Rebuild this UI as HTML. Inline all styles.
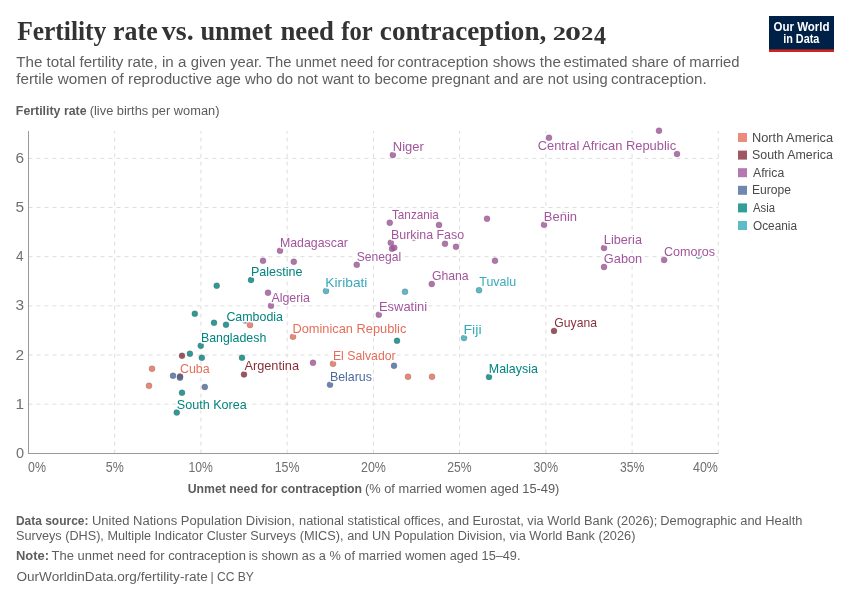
<!DOCTYPE html><html><head><meta charset="utf-8"><style>html,body{margin:0;padding:0;background:#fff;overflow:hidden}svg{display:block;will-change:transform;font-family:"Liberation Sans",sans-serif;}</style></head><body>
<svg width="850" height="600" viewBox="0 0 850 600">
<rect width="850" height="600" fill="#fff"/>
<rect x="769" y="16" width="65" height="36" fill="#002147"/>
<rect x="769" y="49.4" width="65" height="2.6" fill="#ce261e"/>
<line x1="28.5" y1="404.15" x2="718.5" y2="404.15" stroke="#ddd" stroke-dasharray="4,4"/>
<line x1="28.5" y1="355.00" x2="718.5" y2="355.00" stroke="#ddd" stroke-dasharray="4,4"/>
<line x1="28.5" y1="305.85" x2="718.5" y2="305.85" stroke="#ddd" stroke-dasharray="4,4"/>
<line x1="28.5" y1="256.70" x2="718.5" y2="256.70" stroke="#ddd" stroke-dasharray="4,4"/>
<line x1="28.5" y1="207.55" x2="718.5" y2="207.55" stroke="#ddd" stroke-dasharray="4,4"/>
<line x1="28.5" y1="158.40" x2="718.5" y2="158.40" stroke="#ddd" stroke-dasharray="4,4"/>
<line x1="114.72" y1="453.6" x2="114.72" y2="131" stroke="#ddd" stroke-dasharray="4,4"/>
<line x1="200.95" y1="453.6" x2="200.95" y2="131" stroke="#ddd" stroke-dasharray="4,4"/>
<line x1="287.18" y1="453.6" x2="287.18" y2="131" stroke="#ddd" stroke-dasharray="4,4"/>
<line x1="373.40" y1="453.6" x2="373.40" y2="131" stroke="#ddd" stroke-dasharray="4,4"/>
<line x1="459.62" y1="453.6" x2="459.62" y2="131" stroke="#ddd" stroke-dasharray="4,4"/>
<line x1="545.85" y1="453.6" x2="545.85" y2="131" stroke="#ddd" stroke-dasharray="4,4"/>
<line x1="632.08" y1="453.6" x2="632.08" y2="131" stroke="#ddd" stroke-dasharray="4,4"/>
<line x1="718.30" y1="453.6" x2="718.30" y2="131" stroke="#ddd" stroke-dasharray="4,4"/>
<line x1="28.5" y1="131" x2="28.5" y2="453.5" stroke="#999"/>
<line x1="28" y1="453.5" x2="718.5" y2="453.5" stroke="#999"/>
<circle cx="152" cy="368.7" r="3" fill="#E56E5A" fill-opacity="0.82" stroke="#555" stroke-opacity="0.55" stroke-width="0.5"/>
<circle cx="149" cy="385.8" r="3" fill="#E56E5A" fill-opacity="0.82" stroke="#555" stroke-opacity="0.55" stroke-width="0.5"/>
<circle cx="250" cy="325" r="3" fill="#E56E5A" fill-opacity="0.82" stroke="#555" stroke-opacity="0.55" stroke-width="0.5"/>
<circle cx="293" cy="336.75" r="3" fill="#E56E5A" fill-opacity="0.82" stroke="#555" stroke-opacity="0.55" stroke-width="0.5"/>
<circle cx="333" cy="363.7" r="3" fill="#E56E5A" fill-opacity="0.82" stroke="#555" stroke-opacity="0.55" stroke-width="0.5"/>
<circle cx="408" cy="376.7" r="3" fill="#E56E5A" fill-opacity="0.82" stroke="#555" stroke-opacity="0.55" stroke-width="0.5"/>
<circle cx="432" cy="376.7" r="3" fill="#E56E5A" fill-opacity="0.82" stroke="#555" stroke-opacity="0.55" stroke-width="0.5"/>
<circle cx="182" cy="355.8" r="3" fill="#883039" fill-opacity="0.82" stroke="#555" stroke-opacity="0.55" stroke-width="0.5"/>
<circle cx="180" cy="376.5" r="3" fill="#883039" fill-opacity="0.82" stroke="#555" stroke-opacity="0.55" stroke-width="0.5"/>
<circle cx="244" cy="374.4" r="3" fill="#883039" fill-opacity="0.82" stroke="#555" stroke-opacity="0.55" stroke-width="0.5"/>
<circle cx="554" cy="330.9" r="3" fill="#883039" fill-opacity="0.82" stroke="#555" stroke-opacity="0.55" stroke-width="0.5"/>
<circle cx="245" cy="320.5" r="3" fill="#A2559C" fill-opacity="0.82" stroke="#555" stroke-opacity="0.55" stroke-width="0.5"/>
<circle cx="563.7" cy="215.2" r="3" fill="#A2559C" fill-opacity="0.82" stroke="#555" stroke-opacity="0.55" stroke-width="0.5"/>
<circle cx="413.75" cy="237.8" r="3" fill="#A2559C" fill-opacity="0.82" stroke="#555" stroke-opacity="0.55" stroke-width="0.5"/>
<circle cx="392.85" cy="154.9" r="3" fill="#A2559C" fill-opacity="0.82" stroke="#555" stroke-opacity="0.55" stroke-width="0.5"/>
<circle cx="549" cy="137.75" r="3" fill="#A2559C" fill-opacity="0.82" stroke="#555" stroke-opacity="0.55" stroke-width="0.5"/>
<circle cx="659" cy="130.7" r="3" fill="#A2559C" fill-opacity="0.82" stroke="#555" stroke-opacity="0.55" stroke-width="0.5"/>
<circle cx="677" cy="153.9" r="3" fill="#A2559C" fill-opacity="0.82" stroke="#555" stroke-opacity="0.55" stroke-width="0.5"/>
<circle cx="389.75" cy="222.8" r="3" fill="#A2559C" fill-opacity="0.82" stroke="#555" stroke-opacity="0.55" stroke-width="0.5"/>
<circle cx="439" cy="225" r="3" fill="#A2559C" fill-opacity="0.82" stroke="#555" stroke-opacity="0.55" stroke-width="0.5"/>
<circle cx="487" cy="218.75" r="3" fill="#A2559C" fill-opacity="0.82" stroke="#555" stroke-opacity="0.55" stroke-width="0.5"/>
<circle cx="544" cy="224.75" r="3" fill="#A2559C" fill-opacity="0.82" stroke="#555" stroke-opacity="0.55" stroke-width="0.5"/>
<circle cx="390.8" cy="242.75" r="3" fill="#A2559C" fill-opacity="0.82" stroke="#555" stroke-opacity="0.55" stroke-width="0.5"/>
<circle cx="392" cy="248.75" r="3" fill="#A2559C" fill-opacity="0.82" stroke="#555" stroke-opacity="0.55" stroke-width="0.5"/>
<circle cx="394.25" cy="247.7" r="3" fill="#A2559C" fill-opacity="0.82" stroke="#555" stroke-opacity="0.55" stroke-width="0.5"/>
<circle cx="445" cy="243.8" r="3" fill="#A2559C" fill-opacity="0.82" stroke="#555" stroke-opacity="0.55" stroke-width="0.5"/>
<circle cx="456" cy="246.8" r="3" fill="#A2559C" fill-opacity="0.82" stroke="#555" stroke-opacity="0.55" stroke-width="0.5"/>
<circle cx="495" cy="260.75" r="3" fill="#A2559C" fill-opacity="0.82" stroke="#555" stroke-opacity="0.55" stroke-width="0.5"/>
<circle cx="604" cy="248" r="3" fill="#A2559C" fill-opacity="0.82" stroke="#555" stroke-opacity="0.55" stroke-width="0.5"/>
<circle cx="604" cy="267" r="3" fill="#A2559C" fill-opacity="0.82" stroke="#555" stroke-opacity="0.55" stroke-width="0.5"/>
<circle cx="664.1" cy="259.9" r="3" fill="#A2559C" fill-opacity="0.82" stroke="#555" stroke-opacity="0.55" stroke-width="0.5"/>
<circle cx="280" cy="250.75" r="3" fill="#A2559C" fill-opacity="0.82" stroke="#555" stroke-opacity="0.55" stroke-width="0.5"/>
<circle cx="263" cy="260.8" r="3" fill="#A2559C" fill-opacity="0.82" stroke="#555" stroke-opacity="0.55" stroke-width="0.5"/>
<circle cx="293.8" cy="261.7" r="3" fill="#A2559C" fill-opacity="0.82" stroke="#555" stroke-opacity="0.55" stroke-width="0.5"/>
<circle cx="356.75" cy="264.8" r="3" fill="#A2559C" fill-opacity="0.82" stroke="#555" stroke-opacity="0.55" stroke-width="0.5"/>
<circle cx="431.75" cy="284.0" r="3" fill="#A2559C" fill-opacity="0.82" stroke="#555" stroke-opacity="0.55" stroke-width="0.5"/>
<circle cx="268" cy="292.75" r="3" fill="#A2559C" fill-opacity="0.82" stroke="#555" stroke-opacity="0.55" stroke-width="0.5"/>
<circle cx="271" cy="305.8" r="3" fill="#A2559C" fill-opacity="0.82" stroke="#555" stroke-opacity="0.55" stroke-width="0.5"/>
<circle cx="378.8" cy="314.7" r="3" fill="#A2559C" fill-opacity="0.82" stroke="#555" stroke-opacity="0.55" stroke-width="0.5"/>
<circle cx="313" cy="362.8" r="3" fill="#A2559C" fill-opacity="0.82" stroke="#555" stroke-opacity="0.55" stroke-width="0.5"/>
<circle cx="173" cy="375.8" r="3" fill="#4C6A9C" fill-opacity="0.82" stroke="#555" stroke-opacity="0.55" stroke-width="0.5"/>
<circle cx="180" cy="377.7" r="3" fill="#4C6A9C" fill-opacity="0.82" stroke="#555" stroke-opacity="0.55" stroke-width="0.5"/>
<circle cx="204.8" cy="387" r="3" fill="#4C6A9C" fill-opacity="0.82" stroke="#555" stroke-opacity="0.55" stroke-width="0.5"/>
<circle cx="330" cy="384.7" r="3" fill="#4C6A9C" fill-opacity="0.82" stroke="#555" stroke-opacity="0.55" stroke-width="0.5"/>
<circle cx="394" cy="365.8" r="3" fill="#4C6A9C" fill-opacity="0.82" stroke="#555" stroke-opacity="0.55" stroke-width="0.5"/>
<circle cx="200.75" cy="345.75" r="3" fill="#00847E" fill-opacity="0.82" stroke="#555" stroke-opacity="0.55" stroke-width="0.5"/>
<circle cx="189.9" cy="353.7" r="3" fill="#00847E" fill-opacity="0.82" stroke="#555" stroke-opacity="0.55" stroke-width="0.5"/>
<circle cx="201.8" cy="357.75" r="3" fill="#00847E" fill-opacity="0.82" stroke="#555" stroke-opacity="0.55" stroke-width="0.5"/>
<circle cx="242" cy="357.75" r="3" fill="#00847E" fill-opacity="0.82" stroke="#555" stroke-opacity="0.55" stroke-width="0.5"/>
<circle cx="182" cy="392.7" r="3" fill="#00847E" fill-opacity="0.82" stroke="#555" stroke-opacity="0.55" stroke-width="0.5"/>
<circle cx="176.75" cy="412.5" r="3" fill="#00847E" fill-opacity="0.82" stroke="#555" stroke-opacity="0.55" stroke-width="0.5"/>
<circle cx="216.7" cy="285.75" r="3" fill="#00847E" fill-opacity="0.82" stroke="#555" stroke-opacity="0.55" stroke-width="0.5"/>
<circle cx="194.8" cy="313.8" r="3" fill="#00847E" fill-opacity="0.82" stroke="#555" stroke-opacity="0.55" stroke-width="0.5"/>
<circle cx="214" cy="322.8" r="3" fill="#00847E" fill-opacity="0.82" stroke="#555" stroke-opacity="0.55" stroke-width="0.5"/>
<circle cx="226" cy="324.75" r="3" fill="#00847E" fill-opacity="0.82" stroke="#555" stroke-opacity="0.55" stroke-width="0.5"/>
<circle cx="251" cy="280" r="3" fill="#00847E" fill-opacity="0.82" stroke="#555" stroke-opacity="0.55" stroke-width="0.5"/>
<circle cx="397" cy="340.8" r="3" fill="#00847E" fill-opacity="0.82" stroke="#555" stroke-opacity="0.55" stroke-width="0.5"/>
<circle cx="489" cy="376.9" r="3" fill="#00847E" fill-opacity="0.82" stroke="#555" stroke-opacity="0.55" stroke-width="0.5"/>
<circle cx="698.7" cy="255.7" r="3" fill="#38AABA" fill-opacity="0.82" stroke="#555" stroke-opacity="0.55" stroke-width="0.5"/>
<circle cx="326" cy="291.0" r="3" fill="#38AABA" fill-opacity="0.82" stroke="#555" stroke-opacity="0.55" stroke-width="0.5"/>
<circle cx="405" cy="291.75" r="3" fill="#38AABA" fill-opacity="0.82" stroke="#555" stroke-opacity="0.55" stroke-width="0.5"/>
<circle cx="479" cy="290.2" r="3" fill="#38AABA" fill-opacity="0.82" stroke="#555" stroke-opacity="0.55" stroke-width="0.5"/>
<circle cx="464" cy="338" r="3" fill="#38AABA" fill-opacity="0.82" stroke="#555" stroke-opacity="0.55" stroke-width="0.5"/>
<rect x="738" y="133.0" width="9" height="9" fill="#E56E5A" fill-opacity="0.8"/>
<rect x="738" y="150.6" width="9" height="9" fill="#883039" fill-opacity="0.8"/>
<rect x="738" y="168.2" width="9" height="9" fill="#A2559C" fill-opacity="0.8"/>
<rect x="738" y="185.8" width="9" height="9" fill="#4C6A9C" fill-opacity="0.8"/>
<rect x="738" y="203.4" width="9" height="9" fill="#00847E" fill-opacity="0.8"/>
<rect x="738" y="221.0" width="9" height="9" fill="#38AABA" fill-opacity="0.8"/>
<text id="t0" x="17.13" y="39.7" font-size="26.5" fill="#333" textLength="89.22" lengthAdjust="spacingAndGlyphs" font-weight="bold" font-family="Liberation Serif">Fertility</text>
<text id="t1" x="113.10" y="39.7" font-size="26.5" fill="#333" textLength="44.55" lengthAdjust="spacingAndGlyphs" font-weight="bold" font-family="Liberation Serif">rate</text>
<text id="t2" x="161.75" y="39.7" font-size="26.5" fill="#333" textLength="31.95" lengthAdjust="spacingAndGlyphs" font-weight="bold" font-family="Liberation Serif">vs.</text>
<text id="t3" x="200.40" y="39.7" font-size="26.5" fill="#333" textLength="71.90" lengthAdjust="spacingAndGlyphs" font-weight="bold" font-family="Liberation Serif">unmet</text>
<text id="t4" x="280.45" y="39.7" font-size="26.5" fill="#333" textLength="53.50" lengthAdjust="spacingAndGlyphs" font-weight="bold" font-family="Liberation Serif">need</text>
<text id="t5" x="341.25" y="39.7" font-size="26.5" fill="#333" textLength="31.45" lengthAdjust="spacingAndGlyphs" font-weight="bold" font-family="Liberation Serif">for</text>
<text id="t6" x="379.85" y="39.7" font-size="26.5" fill="#333" textLength="166.45" lengthAdjust="spacingAndGlyphs" font-weight="bold" font-family="Liberation Serif">contraception,</text>
<text id="d0" x="552.80" y="40.1" font-size="19.5" fill="#333" textLength="13.25" lengthAdjust="spacingAndGlyphs" font-weight="bold" font-family="Liberation Serif">2</text>
<text id="d1" x="565.00" y="40.1" font-size="19.5" fill="#333" textLength="16.00" lengthAdjust="spacingAndGlyphs" font-weight="bold" font-family="Liberation Serif">0</text>
<text id="d2" x="581.00" y="40.1" font-size="19.5" fill="#333" textLength="12.35" lengthAdjust="spacingAndGlyphs" font-weight="bold" font-family="Liberation Serif">2</text>
<text id="d3" x="594.00" y="43.8" font-size="25.5" fill="#333" textLength="11.95" lengthAdjust="spacingAndGlyphs" font-weight="bold" font-family="Liberation Serif">4</text>
<text id="s1_0" x="16.30" y="66.5" font-size="14.9" fill="#5e5e5e" textLength="170.10" lengthAdjust="spacingAndGlyphs">The total fertility rate, in a</text>
<text id="s1_1" x="190.80" y="66.5" font-size="14.9" fill="#5e5e5e" textLength="203.80" lengthAdjust="spacingAndGlyphs">given year. The unmet need for</text>
<text id="s1_2" x="397.60" y="66.5" font-size="14.9" fill="#5e5e5e" textLength="163.30" lengthAdjust="spacingAndGlyphs">contraception shows the</text>
<text id="s1_3" x="563.40" y="66.5" font-size="14.9" fill="#5e5e5e" textLength="176.20" lengthAdjust="spacingAndGlyphs">estimated share of married</text>
<text id="s2_0" x="16.30" y="84.2" font-size="14.9" fill="#5e5e5e" textLength="195.60" lengthAdjust="spacingAndGlyphs">fertile women of reproductive</text>
<text id="s2_1" x="215.90" y="84.2" font-size="14.9" fill="#5e5e5e" textLength="211.70" lengthAdjust="spacingAndGlyphs">age who do not want to become</text>
<text id="s2_2" x="431.50" y="84.2" font-size="14.9" fill="#5e5e5e" textLength="176.10" lengthAdjust="spacingAndGlyphs">pregnant and are not using</text>
<text id="s2_3" x="611.00" y="84.2" font-size="14.9" fill="#5e5e5e" textLength="95.70" lengthAdjust="spacingAndGlyphs">contraception.</text>
<text id="ya1" x="15.85" y="115.2" font-size="12" fill="#5b5b5b" textLength="70.75" lengthAdjust="spacingAndGlyphs" font-weight="bold">Fertility rate</text>
<text id="ya2" x="89.75" y="115.2" font-size="12" fill="#5b5b5b" textLength="129.70" lengthAdjust="spacingAndGlyphs">(live births per woman)</text>
<text id="xa1" x="187.75" y="492.9" font-size="12.5" fill="#5b5b5b" textLength="174.25" lengthAdjust="spacingAndGlyphs" font-weight="bold">Unmet need for contraception</text>
<text id="xa2" x="365.00" y="492.9" font-size="12.5" fill="#5b5b5b" textLength="194.40" lengthAdjust="spacingAndGlyphs">(% of married women aged 15-49)</text>
<text id="lg1" x="773.45" y="30.7" font-size="12.3" fill="#fff" textLength="56.15" lengthAdjust="spacingAndGlyphs" font-weight="bold">Our World</text>
<text id="lg2" x="783.15" y="42.8" font-size="12.3" fill="#fff" textLength="36.25" lengthAdjust="spacingAndGlyphs" font-weight="bold">in Data</text>
<text id="leg0" x="752.00" y="141.6" font-size="12.3" fill="#4a4a4a" textLength="81.00" lengthAdjust="spacingAndGlyphs">North America</text>
<text id="leg1" x="752.00" y="159.2" font-size="12.3" fill="#4a4a4a" textLength="80.80" lengthAdjust="spacingAndGlyphs">South America</text>
<text id="leg2" x="753.00" y="176.8" font-size="12.3" fill="#4a4a4a" textLength="31.20" lengthAdjust="spacingAndGlyphs">Africa</text>
<text id="leg3" x="752.00" y="194.4" font-size="12.3" fill="#4a4a4a" textLength="39.00" lengthAdjust="spacingAndGlyphs">Europe</text>
<text id="leg4" x="753.00" y="212.0" font-size="12.3" fill="#4a4a4a" textLength="22.00" lengthAdjust="spacingAndGlyphs">Asia</text>
<text id="leg5" x="753.00" y="229.6" font-size="12.3" fill="#4a4a4a" textLength="44.00" lengthAdjust="spacingAndGlyphs">Oceania</text>
<text id="f1" x="15.93" y="524.8" font-size="12" fill="#5e5e5e" textLength="72.52" lengthAdjust="spacingAndGlyphs" font-weight="bold">Data source:</text>
<text id="f2_0" x="91.90" y="524.8" font-size="12" fill="#5e5e5e" textLength="203.00" lengthAdjust="spacingAndGlyphs">United Nations Population Division,</text>
<text id="f2_1" x="299.10" y="524.8" font-size="12" fill="#5e5e5e" textLength="358.30" lengthAdjust="spacingAndGlyphs">national statistical offices, and Eurostat, via World Bank (2026);</text>
<text id="f2_2" x="660.30" y="524.8" font-size="12" fill="#5e5e5e" textLength="142.10" lengthAdjust="spacingAndGlyphs">Demographic and Health</text>
<text id="f3_0" x="15.96" y="540.4" font-size="12" fill="#5e5e5e" textLength="280.04" lengthAdjust="spacingAndGlyphs">Surveys (DHS), Multiple Indicator Cluster Surveys</text>
<text id="f3_1" x="299.70" y="540.4" font-size="12" fill="#5e5e5e" textLength="335.70" lengthAdjust="spacingAndGlyphs">(MICS), and UN Population Division, via World Bank (2026)</text>
<text id="f4" x="15.93" y="560.2" font-size="12" fill="#5e5e5e" textLength="33.07" lengthAdjust="spacingAndGlyphs" font-weight="bold">Note:</text>
<text id="f5_0" x="51.60" y="560.2" font-size="12" fill="#5e5e5e" textLength="194.25" lengthAdjust="spacingAndGlyphs">The unmet need for contraception</text>
<text id="f5_1" x="248.80" y="560.2" font-size="12" fill="#5e5e5e" textLength="271.70" lengthAdjust="spacingAndGlyphs">is shown as a % of married women aged 15–49.</text>
<text id="f6_0" x="16.47" y="580.5" font-size="12" fill="#5e5e5e" textLength="191.33" lengthAdjust="spacingAndGlyphs">OurWorldinData.org/fertility-rate</text>
<text id="f6_1" x="210.40" y="580.5" font-size="12" fill="#5e5e5e" textLength="43.50" lengthAdjust="spacingAndGlyphs">| CC BY</text>
<text id="yt0" x="16.10" y="457.9" font-size="14" fill="#707070" textLength="8.10" lengthAdjust="spacingAndGlyphs">0</text>
<text id="yt1" x="15.60" y="408.75" font-size="14" fill="#707070" textLength="8.60" lengthAdjust="spacingAndGlyphs">1</text>
<text id="yt2" x="15.60" y="359.6" font-size="14" fill="#707070" textLength="8.60" lengthAdjust="spacingAndGlyphs">2</text>
<text id="yt3" x="15.60" y="310.45" font-size="14" fill="#707070" textLength="8.60" lengthAdjust="spacingAndGlyphs">3</text>
<text id="yt4" x="16.10" y="261.3" font-size="14" fill="#707070" textLength="7.60" lengthAdjust="spacingAndGlyphs">4</text>
<text id="yt5" x="15.60" y="212.15" font-size="14" fill="#707070" textLength="8.60" lengthAdjust="spacingAndGlyphs">5</text>
<text id="yt6" x="15.60" y="163.0" font-size="14" fill="#707070" textLength="8.60" lengthAdjust="spacingAndGlyphs">6</text>
<text id="xt0" x="28.10" y="471.7" font-size="13.8" fill="#707070" textLength="17.90" lengthAdjust="spacingAndGlyphs">0%</text>
<text id="xt5" x="105.80" y="471.7" font-size="13.8" fill="#707070" textLength="18.00" lengthAdjust="spacingAndGlyphs">5%</text>
<text id="xt10" x="188.40" y="471.7" font-size="13.8" fill="#707070" textLength="24.40" lengthAdjust="spacingAndGlyphs">10%</text>
<text id="xt15" x="274.70" y="471.7" font-size="13.8" fill="#707070" textLength="24.90" lengthAdjust="spacingAndGlyphs">15%</text>
<text id="xt20" x="361.00" y="471.7" font-size="13.8" fill="#707070" textLength="24.90" lengthAdjust="spacingAndGlyphs">20%</text>
<text id="xt25" x="447.30" y="471.7" font-size="13.8" fill="#707070" textLength="24.40" lengthAdjust="spacingAndGlyphs">25%</text>
<text id="xt30" x="533.60" y="471.7" font-size="13.8" fill="#707070" textLength="24.40" lengthAdjust="spacingAndGlyphs">30%</text>
<text id="xt35" x="619.90" y="471.7" font-size="13.8" fill="#707070" textLength="24.40" lengthAdjust="spacingAndGlyphs">35%</text>
<text id="xt40" x="693.00" y="471.7" font-size="13.8" fill="#707070" textLength="24.90" lengthAdjust="spacingAndGlyphs">40%</text>
<text id="lb0" x="392.75" y="150.8" font-size="12.8" fill="#A2559C" textLength="31.10" lengthAdjust="spacingAndGlyphs" stroke="#fff" stroke-width="3" paint-order="stroke" stroke-linejoin="round">Niger</text>
<text id="lb1" x="537.70" y="150.2" font-size="12.8" fill="#A2559C" textLength="138.40" lengthAdjust="spacingAndGlyphs" stroke="#fff" stroke-width="3" paint-order="stroke" stroke-linejoin="round">Central African Republic</text>
<text id="lb2" x="392.00" y="219.2" font-size="12.8" fill="#A2559C" textLength="46.88" lengthAdjust="spacingAndGlyphs" stroke="#fff" stroke-width="3" paint-order="stroke" stroke-linejoin="round">Tanzania</text>
<text id="lb3" x="543.85" y="220.85" font-size="12.8" fill="#A2559C" textLength="33.25" lengthAdjust="spacingAndGlyphs" stroke="#fff" stroke-width="3" paint-order="stroke" stroke-linejoin="round">Benin</text>
<text id="lb4" x="391.00" y="239.0" font-size="12.8" fill="#A2559C" textLength="73.10" lengthAdjust="spacingAndGlyphs" stroke="#fff" stroke-width="3" paint-order="stroke" stroke-linejoin="round">Burkina Faso</text>
<text id="lb5" x="279.88" y="246.7" font-size="12.8" fill="#A2559C" textLength="68.00" lengthAdjust="spacingAndGlyphs" stroke="#fff" stroke-width="3" paint-order="stroke" stroke-linejoin="round">Madagascar</text>
<text id="lb6" x="603.85" y="243.5" font-size="12.8" fill="#A2559C" textLength="38.10" lengthAdjust="spacingAndGlyphs" stroke="#fff" stroke-width="3" paint-order="stroke" stroke-linejoin="round">Liberia</text>
<text id="lb7" x="664.00" y="256.1" font-size="12.8" fill="#A2559C" textLength="50.95" lengthAdjust="spacingAndGlyphs" stroke="#fff" stroke-width="3" paint-order="stroke" stroke-linejoin="round">Comoros</text>
<text id="lb8" x="356.75" y="260.7" font-size="12.8" fill="#A2559C" textLength="44.50" lengthAdjust="spacingAndGlyphs" stroke="#fff" stroke-width="3" paint-order="stroke" stroke-linejoin="round">Senegal</text>
<text id="lb9" x="603.85" y="263.25" font-size="12.8" fill="#A2559C" textLength="38.35" lengthAdjust="spacingAndGlyphs" stroke="#fff" stroke-width="3" paint-order="stroke" stroke-linejoin="round">Gabon</text>
<text id="lb10" x="250.90" y="275.5" font-size="12.8" fill="#00847E" textLength="51.70" lengthAdjust="spacingAndGlyphs" stroke="#fff" stroke-width="3" paint-order="stroke" stroke-linejoin="round">Palestine</text>
<text id="lb11" x="431.88" y="280.0" font-size="12.8" fill="#A2559C" textLength="36.78" lengthAdjust="spacingAndGlyphs" stroke="#fff" stroke-width="3" paint-order="stroke" stroke-linejoin="round">Ghana</text>
<text id="lb12" x="479.25" y="285.8" font-size="12.8" fill="#38AABA" textLength="36.85" lengthAdjust="spacingAndGlyphs" stroke="#fff" stroke-width="3" paint-order="stroke" stroke-linejoin="round">Tuvalu</text>
<text id="lb13" x="325.38" y="287.2" font-size="12.8" fill="#38AABA" textLength="42.03" lengthAdjust="spacingAndGlyphs" stroke="#fff" stroke-width="3" paint-order="stroke" stroke-linejoin="round">Kiribati</text>
<text id="lb14" x="271.38" y="301.6" font-size="12.8" fill="#A2559C" textLength="38.62" lengthAdjust="spacingAndGlyphs" stroke="#fff" stroke-width="3" paint-order="stroke" stroke-linejoin="round">Algeria</text>
<text id="lb15" x="379.00" y="310.5" font-size="12.8" fill="#A2559C" textLength="48.10" lengthAdjust="spacingAndGlyphs" stroke="#fff" stroke-width="3" paint-order="stroke" stroke-linejoin="round">Eswatini</text>
<text id="lb16" x="226.38" y="321.0" font-size="12.8" fill="#00847E" textLength="56.62" lengthAdjust="spacingAndGlyphs" stroke="#fff" stroke-width="3" paint-order="stroke" stroke-linejoin="round">Cambodia</text>
<text id="lb17" x="554.35" y="326.75" font-size="12.8" fill="#883039" textLength="42.65" lengthAdjust="spacingAndGlyphs" stroke="#fff" stroke-width="3" paint-order="stroke" stroke-linejoin="round">Guyana</text>
<text id="lb18" x="292.40" y="333.05" font-size="12.8" fill="#E56E5A" textLength="114.00" lengthAdjust="spacingAndGlyphs" stroke="#fff" stroke-width="3" paint-order="stroke" stroke-linejoin="round">Dominican Republic</text>
<text id="lb19" x="463.40" y="333.5" font-size="12.8" fill="#38AABA" textLength="18.22" lengthAdjust="spacingAndGlyphs" stroke="#fff" stroke-width="3" paint-order="stroke" stroke-linejoin="round">Fiji</text>
<text id="lb20" x="200.90" y="341.7" font-size="12.8" fill="#00847E" textLength="65.47" lengthAdjust="spacingAndGlyphs" stroke="#fff" stroke-width="3" paint-order="stroke" stroke-linejoin="round">Bangladesh</text>
<text id="lb21" x="332.88" y="359.5" font-size="12.8" fill="#E56E5A" textLength="62.75" lengthAdjust="spacingAndGlyphs" stroke="#fff" stroke-width="3" paint-order="stroke" stroke-linejoin="round">El Salvador</text>
<text id="lb22" x="244.38" y="370.4" font-size="12.8" fill="#883039" textLength="54.62" lengthAdjust="spacingAndGlyphs" stroke="#fff" stroke-width="3" paint-order="stroke" stroke-linejoin="round">Argentina</text>
<text id="lb23" x="488.85" y="372.85" font-size="12.8" fill="#00847E" textLength="49.00" lengthAdjust="spacingAndGlyphs" stroke="#fff" stroke-width="3" paint-order="stroke" stroke-linejoin="round">Malaysia</text>
<text id="lb24" x="179.90" y="372.5" font-size="12.8" fill="#E56E5A" textLength="29.75" lengthAdjust="spacingAndGlyphs" stroke="#fff" stroke-width="3" paint-order="stroke" stroke-linejoin="round">Cuba</text>
<text id="lb25" x="329.88" y="381.0" font-size="12.8" fill="#4C6A9C" textLength="42.12" lengthAdjust="spacingAndGlyphs" stroke="#fff" stroke-width="3" paint-order="stroke" stroke-linejoin="round">Belarus</text>
<text id="lb26" x="176.75" y="409.15" font-size="12.8" fill="#00847E" textLength="70.00" lengthAdjust="spacingAndGlyphs" stroke="#fff" stroke-width="3" paint-order="stroke" stroke-linejoin="round">South Korea</text>
</svg></body></html>
